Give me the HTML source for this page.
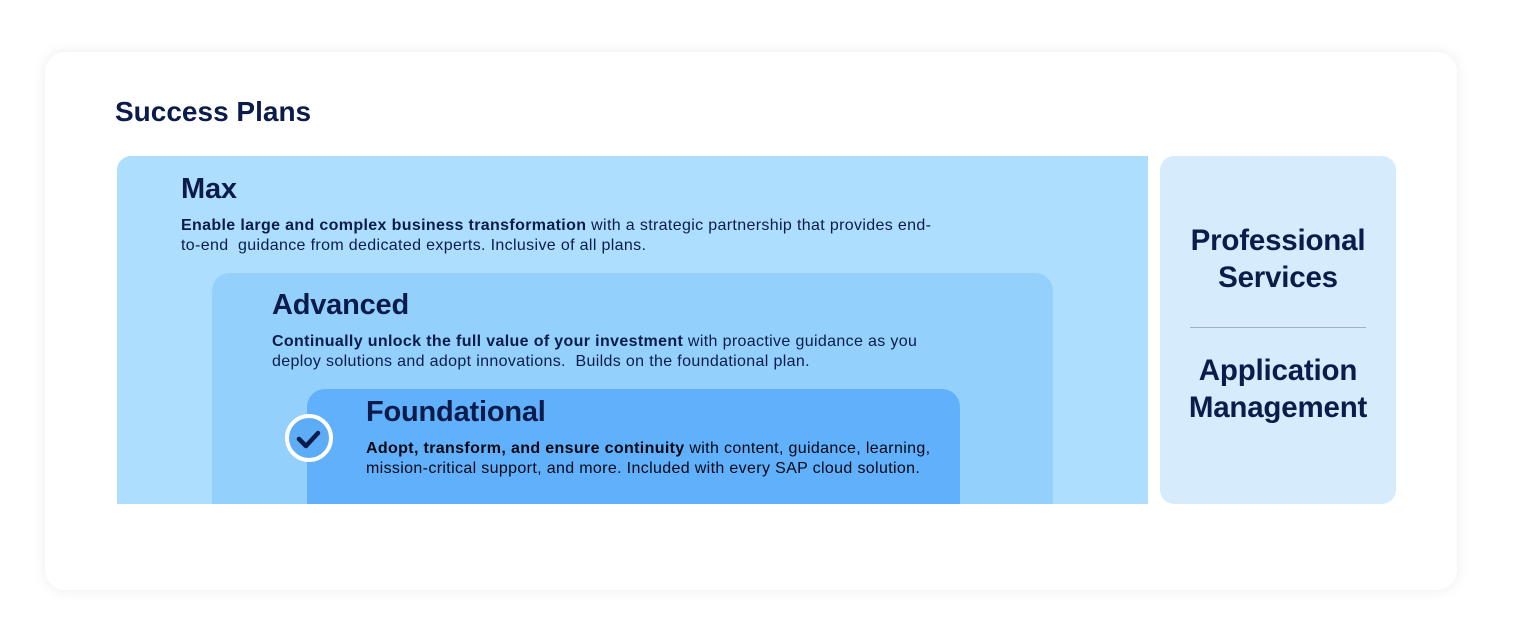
<!DOCTYPE html>
<html><head><style>
body{margin:0;width:1518px;height:643px;background:#fff;font-family:"Liberation Sans",sans-serif;color:#0b1c4a;position:relative;overflow:hidden}
.card{position:absolute;left:45px;top:52px;width:1412px;height:538px;background:#fff;border-radius:20px;box-shadow:0 0 14px rgba(0,0,0,0.08)}
.a{position:absolute;white-space:nowrap}
h1{position:absolute;left:115px;top:96px;margin:0;font-size:28px;font-weight:bold;color:#0b1c4a}
.t{font-size:29px;font-weight:bold;letter-spacing:-0.2px}
.d{font-size:16px;line-height:20px;letter-spacing:0.35px}
.r{font-size:29.5px;font-weight:bold;text-align:center;line-height:37px;width:236px;letter-spacing:-0.2px}
</style></head><body>
<div class="card"></div>
<h1>Success Plans</h1>
<div class="a" style="left:117px;top:156px;width:1031px;height:348px;background:#addefd;border-top-left-radius:14px"></div>
<div class="a" style="left:212px;top:273px;width:841px;height:231px;background:#93d0fc;border-radius:18px 18px 0 0"></div>
<div class="a" style="left:307px;top:389px;width:653px;height:115px;background:#60b0fc;border-radius:18px 18px 0 0"></div>
<div class="a" style="left:1160px;top:156px;width:236px;height:348px;background:#d6ecfd;border-radius:14px"></div>
<div class="a" style="left:1190px;top:327px;width:176px;height:1px;background:#9fb0c0"></div>
<div class="a t" style="left:181px;top:173px">Max</div>
<div class="a d" style="left:181px;top:216px"><b>Enable large and complex business transformation</b> with a strategic partnership that provides end-<br>to-end&nbsp; guidance from dedicated experts. Inclusive of all plans.</div>
<div class="a t" style="left:272px;top:289px">Advanced</div>
<div class="a d" style="left:272px;top:332px"><b>Continually unlock the full value of your investment</b> with proactive guidance as you<br>deploy solutions and adopt innovations.&nbsp; Builds on the foundational plan.</div>
<div class="a t" style="left:366px;top:396px">Foundational</div>
<div class="a d" style="left:366px;top:439px;color:#000814"><b>Adopt, transform, and ensure continuity</b> with content, guidance, learning,<br>mission-critical support, and more. Included with every SAP cloud solution.</div>
<div class="a" style="left:285px;top:414px;width:40px;height:40px;border:4px solid #fff;border-radius:50%;background:#5cacf6"></div>
<svg class="a" style="left:293px;top:424px" width="32" height="30"><path d="M6 15 L13 22 L25 9" fill="none" stroke="#0b1c4a" stroke-width="4.5" stroke-linecap="round" stroke-linejoin="round"/></svg>
<div class="a r" style="left:1160px;top:222px">Professional<br>Services</div>
<div class="a r" style="left:1160px;top:352px">Application<br>Management</div>
</body></html>
